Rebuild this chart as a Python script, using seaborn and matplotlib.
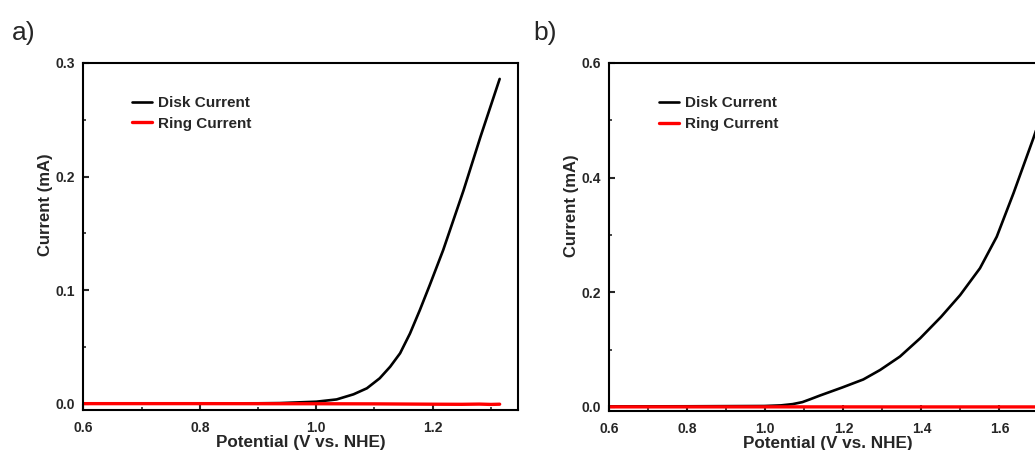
import numpy as np
import pandas as pd
import matplotlib
matplotlib.use("Agg")
import matplotlib.pyplot as plt
from matplotlib.ticker import MultipleLocator, FormatStrFormatter
import seaborn as sns

# ---------------- data ----------------
# Panel a
pot_a = [0.60, 0.70, 0.80, 0.90, 0.938, 1.000, 1.035, 1.064, 1.087, 1.109, 1.127, 1.144,
         1.161, 1.178, 1.195, 1.218, 1.253, 1.282, 1.315]
disk_a = [0.0003, 0.0004, 0.0005, 0.0006, 0.0008, 0.0020, 0.0040, 0.0085, 0.0138, 0.0226,
          0.0328, 0.0446, 0.062, 0.0827, 0.1047, 0.1354, 0.188, 0.235, 0.286]
ring_pot_a = [0.60, 0.80, 1.00, 1.10, 1.20, 1.25, 1.28, 1.30, 1.315]
ring_a = [0.0003, 0.0003, 0.0002, 0.0001, -0.0002, -0.0003, -0.0001, -0.0004, -0.0002]

# Panel b
pot_b = [0.60, 0.80, 0.997, 1.040, 1.070, 1.095, 1.115, 1.140, 1.197, 1.251, 1.294, 1.345,
         1.397, 1.45, 1.499, 1.55, 1.593, 1.636, 1.687, 1.70]
disk_b = [0.0010, 0.0012, 0.0017, 0.0028, 0.0050, 0.0085, 0.0135, 0.020, 0.034, 0.048,
          0.0645, 0.088, 0.120, 0.157, 0.195, 0.242, 0.297, 0.373, 0.469, 0.495]
ring_pot_b = [0.60, 1.00, 1.40, 1.70]
ring_b = [0.0002, 0.0002, 0.0001, 0.0001]

xlabel = "Potential (V vs. NHE)"
ylabel = "Current (mA)"
labels = ["Disk Current", "Ring Current"]
panel_tags = ["a)", "b)"]

# ---------------- style ----------------
sns.set_style("ticks")
plt.rcParams["font.family"] = ["Liberation Sans", "DejaVu Sans"]
plt.rcParams["axes.linewidth"] = 1.5

fig = plt.figure(figsize=(10.35, 4.5), dpi=100)
W, H = 1035, 450

def make_ax(left_px, right_px, top_px, bottom_px):
    return fig.add_axes([left_px / W, 1 - bottom_px / H,
                         (right_px - left_px) / W, (bottom_px - top_px) / H])

ax_a = make_ax(83.3, 518.3, 63, 410)
ax_b = make_ax(609.3, 1046.3, 63, 410.7)

panels = [
    (ax_a, pot_a, disk_a, ring_pot_a, ring_a, (0.6, 1.347), (-0.0053, 0.3), 0.1, 0.05),
    (ax_b, pot_b, disk_b, ring_pot_b, ring_b, (0.6, 1.72), (-0.0065, 0.6), 0.2, 0.1),
]

for ax, px, dy, rpx, ry, xl, yl, ymaj, ymin in panels:
    df_d = pd.DataFrame({"x": px, "y": dy})
    df_r = pd.DataFrame({"x": rpx, "y": ry})
    sns.lineplot(data=df_d, x="x", y="y", ax=ax, color="black", lw=1.9, label=labels[0])
    sns.lineplot(data=df_r, x="x", y="y", ax=ax, color="#ff0000", lw=2.4, label=labels[1])
    ax.set_xlim(*xl)
    ax.set_ylim(*yl)
    ax.xaxis.set_major_locator(MultipleLocator(0.2))
    ax.xaxis.set_minor_locator(MultipleLocator(0.1))
    ax.yaxis.set_major_locator(MultipleLocator(ymaj))
    ax.yaxis.set_minor_locator(MultipleLocator(ymin))
    ax.xaxis.set_major_formatter(FormatStrFormatter("%.1f"))
    ax.yaxis.set_major_formatter(FormatStrFormatter("%.1f"))
    ax.tick_params(which="major", direction="in", length=4, width=1.5,
                   labelsize=10, top=False, right=False)
    ax.tick_params(axis="x", which="major", pad=8)
    ax.tick_params(axis="y", which="major", pad=6)
    ax.tick_params(which="minor", direction="in", length=2.5, width=1.2, top=False, right=False)
    for lab in ax.get_xticklabels() + ax.get_yticklabels():
        lab.set_fontweight("bold")
    for s in ax.spines.values():
        s.set_visible(True)
        s.set_linewidth(1.5)
        s.set_color("black")
    ax.set_xlabel(xlabel, fontsize=12.3, fontweight="bold", labelpad=0)
    ax.set_ylabel(ylabel, fontsize=12, fontweight="bold")
    ax.yaxis.set_label_coords(-0.069, 0.591)
    ax.legend(loc="upper left", bbox_to_anchor=(0.113, 0.905), frameon=False,
              handlelength=1.3, handletextpad=0.4,
              borderpad=0, borderaxespad=0, labelspacing=0.45,
              prop={"weight": "bold", "size": 11})

fig.text(12 / W, 1 - 33 / H, panel_tags[0], fontsize=19, va="center", ha="left")
fig.text(533 / W, 1 - 33 / H, panel_tags[1], fontsize=19, va="center", ha="left")

fig.savefig("out.png", dpi=100)
